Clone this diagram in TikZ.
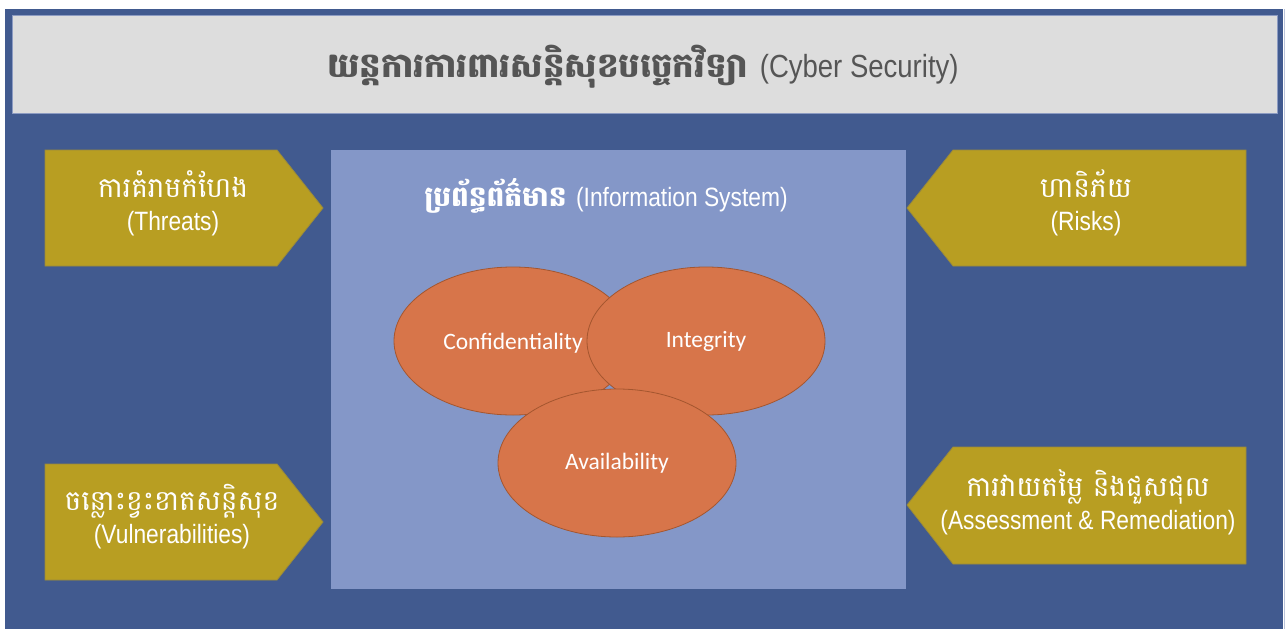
\documentclass[tikz,border=0pt]{standalone}
\usepackage{fontspec}
\setmainfont{Liberation Sans}
\newfontfamily\khmer[Script=Khmer]{Battambang}
\newfontfamily\narrow[FakeStretch=0.86]{Liberation Sans}
\newfontfamily\calib{Carlito}
\usetikzlibrary{shapes.geometric}
\definecolor{bgblue}{HTML}{415A8F}
\definecolor{titlegray}{HTML}{DDDDDD}
\definecolor{titleedge}{HTML}{8C9BC2}
\definecolor{titletext}{HTML}{555555}
\definecolor{infobox}{HTML}{8497C8}
\definecolor{gold}{HTML}{B89E22}
\definecolor{goldedge}{HTML}{9A8A3C}
\definecolor{ellfill}{HTML}{D7754A}
\definecolor{elledge}{HTML}{A4562F}
\newcommand{\khl}[1]{{\khmer\fontsize{28}{32}\selectfont #1}}
\tikzset{
  arrowshape/.style={fill=gold, draw=goldedge, line width=0.8pt, line join=miter},
  ell/.style={ellipse, fill=ellfill, draw=elledge, line width=0.8pt, minimum width=238pt, minimum height=148pt, inner sep=0pt, text=white, font=\calib\fontsize{23.5}{27}\selectfont},
  armtext/.style={text=white, align=center, inner sep=0pt, anchor=base, font=\narrow\fontsize{26.5}{33}\selectfont}
}
\begin{document}
\begin{tikzpicture}[x=1pt,y=-1pt]
\useasboundingbox (0,0) rectangle (1287,629);
\fill[white] (0,0) rectangle (1287,629);
\fill[bgblue] (5,9) rectangle (1283,629);
\draw[titleedge!60!white, line width=1pt] (1284,9) -- (1284,629);
% title
\node[draw=titleedge, fill=titlegray, line width=1pt, minimum width=1265pt, minimum height=98pt, inner sep=0pt, anchor=north west] (titlebox) at (12,15) {};
\node[text=titletext, inner sep=0pt, anchor=base] (titletext) at (643,77) {\khmer\bfseries\fontsize{34}{38}\selectfont យន្តការការពារសន្តិសុខបច្ចេកវិទ្យា \narrow\mdseries\fontsize{32}{36}\selectfont(Cyber Security)};
% central box
\node[fill=infobox, minimum width=575pt, minimum height=439pt, inner sep=0pt, anchor=north west] (infobox) at (331,150) {};
\node[text=white, inner sep=0pt, anchor=base] (infotitle) at (606,206) {\khmer\bfseries\fontsize{28}{32}\selectfont ប្រព័ន្ធព័ត៌មាន \narrow\mdseries\fontsize{26.5}{30}\selectfont(Information System)};
% arrows
\draw[arrowshape] (45,150) -- (277,150) -- (323,208) -- (277,266) -- (45,266) -- cycle;
\draw[arrowshape] (1246,150) -- (953,150) -- (907,208) -- (953,266) -- (1246,266) -- cycle;
\draw[arrowshape] (45,464) -- (277,464) -- (323,522) -- (277,580) -- (45,580) -- cycle;
\draw[arrowshape] (1246,447) -- (953,447) -- (907,505) -- (953,564) -- (1246,564) -- cycle;
\node[armtext] (threats) at (173,230) {\khl{ការគំរាមកំហែង}\\(Threats)};
\node[armtext] (risks) at (1086,230) {\khl{ហានិភ័យ}\\(Risks)};
\node[armtext] (vuln) at (172,543) {\khl{ចន្លោះខ្វះខាតសន្តិសុខ}\\(Vulnerabilities)};
\node[armtext] (assess) at (1088,529) {\khl{ការវាយតម្លៃ និងជួសជុល}\\(Assessment \& Remediation)};
% ellipses
\node[ell] (conf) at (513,341) {};
\node[text=white, font=\calib\fontsize{23.5}{27}\selectfont] (conftext) at (513,343) {Confidentiality};
\node[ell] (integ) at (706,341) {\raisebox{-2pt}{Integrity}};
\node[ell] (avail) at (617,463) {\raisebox{-2pt}{Availability}};
\end{tikzpicture}
\end{document}
